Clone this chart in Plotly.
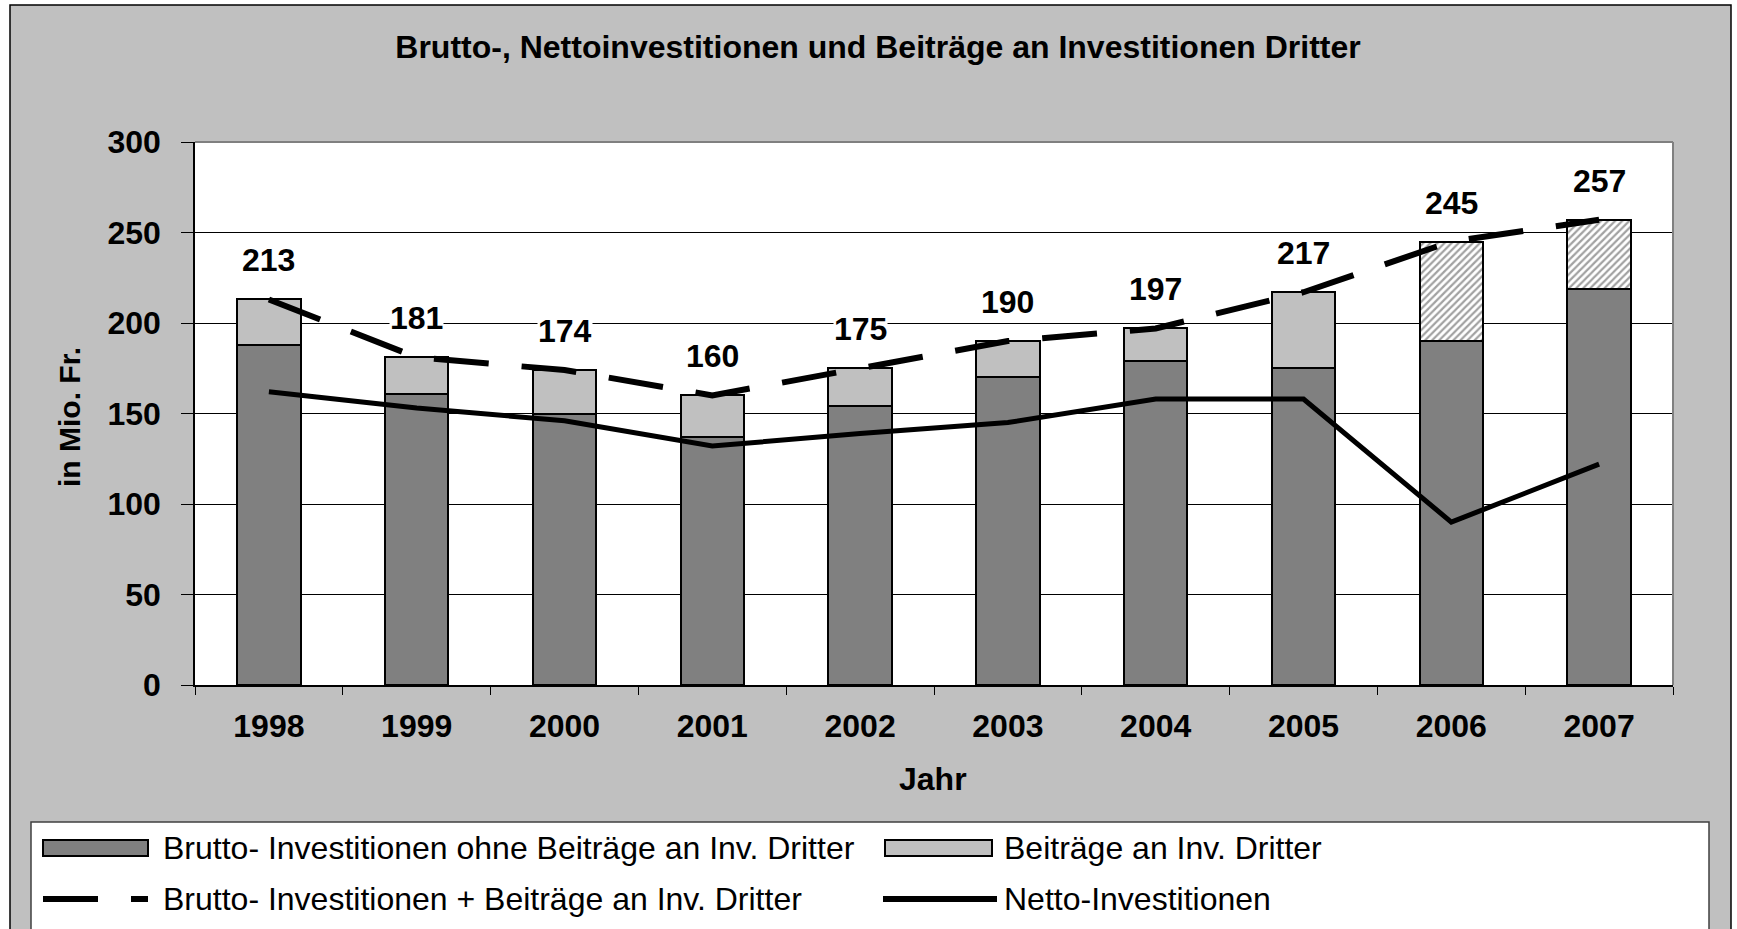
import plotly.graph_objects as go

# --- data (Mio. Fr.) ---
years = ['1998', '1999', '2000', '2001', '2002', '2003', '2004', '2005', '2006', '2007']
brutto_ohne = [188, 161, 150, 137, 154, 170, 179, 175, 190, 219]
beitraege = [25, 20, 24, 23, 21, 20, 18, 42, 55, 38]
brutto_total = [213, 181, 174, 160, 175, 190, 197, 217, 245, 257]
netto = [162, 153, 146, 132, 139, 145, 158, 158, 90, 122]
hatched = [False] * 8 + [True, True]   # 2006/2007 shown with hatching

FONT = "Liberation Sans, Arial, sans-serif"
DARK = '#808080'
LIGHT = '#C0C0C0'

# plot area in pixels (used to place the hand-made legend / frame)
W, H = 1737, 929
L, R, T, B = 195, 1673, 142, 685


def px(x):
    return (x - L) / (R - L)


def py(y):
    return (B - y) / (B - T)


fig = go.Figure()

fig.add_trace(go.Bar(
    x=years, y=brutto_ohne, name='Brutto- Investitionen ohne Beiträge an Inv. Dritter',
    marker=dict(color=DARK, line=dict(color='black', width=2)),
    showlegend=False, hoverinfo='skip'
))
fig.add_trace(go.Bar(
    x=years, y=beitraege, name='Beiträge an Inv. Dritter',
    marker=dict(
        color=['white' if h else LIGHT for h in hatched],
        line=dict(color='black', width=2),
        pattern=dict(shape=['/' if h else '' for h in hatched],
                     fgcolor='#BDBDBD', size=5, solidity=0.45, fillmode='overlay'),
    ),
    showlegend=False, hoverinfo='skip'
))
fig.add_trace(go.Scatter(
    x=years, y=brutto_total, mode='lines', name='Brutto- Investitionen + Beiträge an Inv. Dritter',
    line=dict(color='black', width=6, dash='55px,33px'),
    showlegend=False, hoverinfo='skip'
))
fig.add_trace(go.Scatter(
    x=years, y=netto, mode='lines', name='Netto-Investitionen',
    line=dict(color='black', width=5),
    showlegend=False, hoverinfo='skip'
))

# data labels above the dashed line (x as category index)
for i, v in enumerate(brutto_total):
    fig.add_annotation(x=i, y=v, text=str(v), showarrow=False, yshift=39,
                       bgcolor='white', borderpad=0,
                       font=dict(family=FONT, size=32, color='black', weight='bold'))

# axis titles
fig.add_annotation(x=px(70), y=py(417), xref='paper', yref='paper', text='in Mio. Fr.',
                   textangle=-90, showarrow=False, xanchor='center', yanchor='middle',
                   font=dict(family=FONT, size=30, color='black', weight='bold'))
fig.add_annotation(x=px(933), y=py(779), xref='paper', yref='paper', text='Jahr',
                   showarrow=False, xanchor='center', yanchor='middle',
                   font=dict(family=FONT, size=32, color='black', weight='bold'))

shapes = [
    # outer chart frame
    dict(type='rect', xref='paper', yref='paper', x0=px(10), x1=px(1731), y0=py(945), y1=py(5),
         fillcolor=LIGHT, line=dict(color='black', width=1.5), layer='below'),
    # legend box
    dict(type='rect', xref='paper', yref='paper', x0=px(31), x1=px(1709), y0=py(945), y1=py(822),
         fillcolor='white', line=dict(color='#404040', width=1.5), layer='below'),
    # plot area background
    dict(type='rect', xref='paper', yref='paper', x0=0, x1=1, y0=0, y1=1,
         fillcolor='white', line=dict(width=0), layer='below'),
    # plot area frame (top / right)
    dict(type='line', xref='paper', yref='paper', x0=0, x1=1, y0=1, y1=1,
         line=dict(color='#808080', width=2)),
    dict(type='line', xref='paper', yref='paper', x0=1, x1=1, y0=0, y1=1,
         line=dict(color='#808080', width=2)),
    # legend symbols
    dict(type='rect', xref='paper', yref='paper', x0=px(43), x1=px(148), y0=py(856), y1=py(840),
         fillcolor=DARK, line=dict(color='black', width=2)),
    dict(type='rect', xref='paper', yref='paper', x0=px(885), x1=px(992), y0=py(856), y1=py(840),
         fillcolor=LIGHT, line=dict(color='black', width=2)),
    dict(type='line', xref='paper', yref='paper', x0=px(43), x1=px(148), y0=py(899), y1=py(899),
         line=dict(color='black', width=6, dash='55px,33px')),
    dict(type='line', xref='paper', yref='paper', x0=px(883), x1=px(997), y0=py(899), y1=py(899),
         line=dict(color='black', width=6)),
]

legend_texts = [
    (161, 848, 'Brutto- Investitionen ohne Beiträge an Inv. Dritter'),
    (1002, 848, 'Beiträge an Inv. Dritter'),
    (161, 899, 'Brutto- Investitionen + Beiträge an Inv. Dritter'),
    (1002, 899, 'Netto-Investitionen'),
]
for lx, ly, txt in legend_texts:
    fig.add_annotation(x=px(lx), y=py(ly), xref='paper', yref='paper', text=txt,
                       xanchor='left', yanchor='middle', showarrow=False,
                       font=dict(family=FONT, size=32, color='black'))

fig.update_layout(
    width=W, height=H,
    barmode='stack', bargap=0.57,
    paper_bgcolor='white', plot_bgcolor='white',
    margin=dict(l=L, r=W - R, t=T, b=H - B),
    title=dict(text='Brutto-, Nettoinvestitionen und Beiträge an Investitionen Dritter',
               x=878 / W, xref='container', xanchor='center',
               y=1 - 47 / H, yref='container', yanchor='middle',
               font=dict(family=FONT, size=32, color='black', weight='bold')),
    shapes=shapes,
    showlegend=False,
)
fig.update_xaxes(
    type='category', range=[-0.5, len(years) - 0.5],
    showline=True, linecolor='black', linewidth=1.5,
    ticks='outside', tickson='boundaries', ticklen=8, tickcolor='black',
    ticklabelstandoff=12, showgrid=False,
    tickfont=dict(family=FONT, size=32, color='black', weight='bold'),
)
fig.update_yaxes(
    range=[0, 300], dtick=50, showline=True, linecolor='black', linewidth=1.5,
    ticks='outside', ticklen=12, tickcolor='black', ticklabelstandoff=14,
    showgrid=True, gridcolor='black', gridwidth=1, zeroline=False,
    tickfont=dict(family=FONT, size=32, color='black', weight='bold'),
)

# the page has a default body margin; remove it so the figure sits at (0, 0)
fig.write_html("out.html", config={'displayModeBar': False},
               post_script="document.body.style.margin='0';")
